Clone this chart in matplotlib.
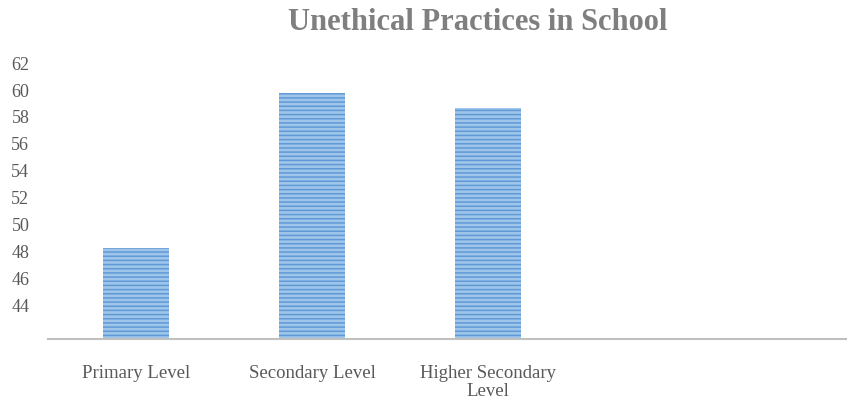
import matplotlib.pyplot as plt

categories = ["Primary Level", "Secondary Level", "Higher Secondary\nLevel"]
values = [48.2, 59.7, 58.6]
yticks = [44, 46, 48, 50, 52, 54, 56, 58, 60, 62]

plt.rcParams['font.family'] = ['Liberation Serif', 'DejaVu Serif']
plt.rcParams['hatch.linewidth'] = 1.1

fig = plt.figure(figsize=(8.47, 4.02), dpi=100)
ax = fig.add_axes([0.0567, 0.154, 0.9433, 0.689])

# light fill with darker horizontal stripes
bars = ax.bar(range(len(categories)), values, width=0.38, color='#9fc5ea',
              edgecolor='#5f9ad6', hatch='----', linewidth=0)

ax.set_xlim(-0.5, 4.04)
ax.set_ylim(41.4, 62)
ax.set_yticks(yticks)
ax.set_yticklabels([str(t) for t in yticks], fontsize=13, color='#595959')
ax.set_xticks(range(len(categories)))
ax.set_xticklabels(categories, fontsize=13.5, color='#595959', linespacing=1.1)
ax.tick_params(axis='both', length=0)
ax.tick_params(axis='x', pad=18)
ax.tick_params(axis='y', pad=13.5)

for s in ['top', 'right', 'left']:
    ax.spines[s].set_visible(False)
ax.spines['bottom'].set_color('#bfbfbf')
ax.spines['bottom'].set_linewidth(1.5)

fig.text(0.564, 0.945, "Unethical Practices in School", ha='center', va='center',
         fontsize=22, fontweight='bold', color='#7f7f7f')

fig.savefig('out.png', dpi=100)
